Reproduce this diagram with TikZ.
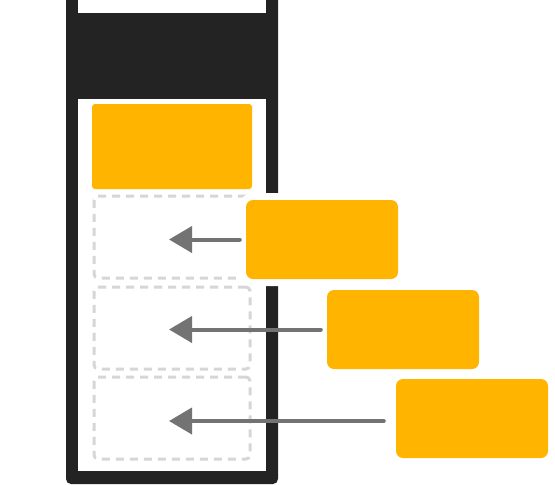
\documentclass[tikz,border=0pt]{standalone}
\usetikzlibrary{arrows.meta}
\definecolor{framegray}{HTML}{232323}
\definecolor{amber}{HTML}{FFB400}
\definecolor{slotgray}{HTML}{D6D6D6}
\definecolor{arrowgray}{HTML}{737373}
\begin{document}
\begin{tikzpicture}[x=1pt,y=-1pt,line join=round,
  slot/.style={draw=slotgray,line width=3pt,dash pattern=on 8pt off 6pt,rounded corners=4pt,minimum width=156pt,minimum height=82pt,inner sep=0pt},
  block/.style={fill=amber,rounded corners=7pt,minimum width=152pt,minimum height=79pt,inner sep=0pt},
  gap/.style={preaction={draw=white,line width=14pt}},
  feed/.style={draw=arrowgray,line width=4pt,line cap=round,-{Triangle[length=23pt,width=26pt]},shorten <=6pt}]
\useasboundingbox (0,0) rectangle (555,485);
\clip (0,0) rectangle (555,485);
% frame
\fill[framegray,rounded corners=5pt] (66,-20) rectangle (278,484);
\fill[white] (78,-20) rectangle (266,13);
\fill[white] (78,99) rectangle (266,471);
% slots
\node[block,rounded corners=3pt,minimum width=160pt,minimum height=85pt] (top) at (172,146.5) {};
\node[slot] (s1) at (172,237) {};
\node[slot] (s2) at (172,328) {};
\node[slot] (s3) at (172,418) {};
% incoming blocks
\node[block,gap] (b1) at (322,239.5) {};
\node[block] (b2) at (403,329.5) {};
\node[block] (b3) at (472,418.5) {};
\draw[feed] (b1.west) -- ([xshift=-3pt]b1.west -| s1.center);
\draw[feed] (b2.west) -- ([xshift=-3pt]b2.west -| s2.center);
\draw[feed,shorten <=12pt] ([yshift=-2.5pt]b3.west) -- ([xshift=-3pt,yshift=-2.5pt]b3.west -| s3.center);
\end{tikzpicture}
\end{document}
